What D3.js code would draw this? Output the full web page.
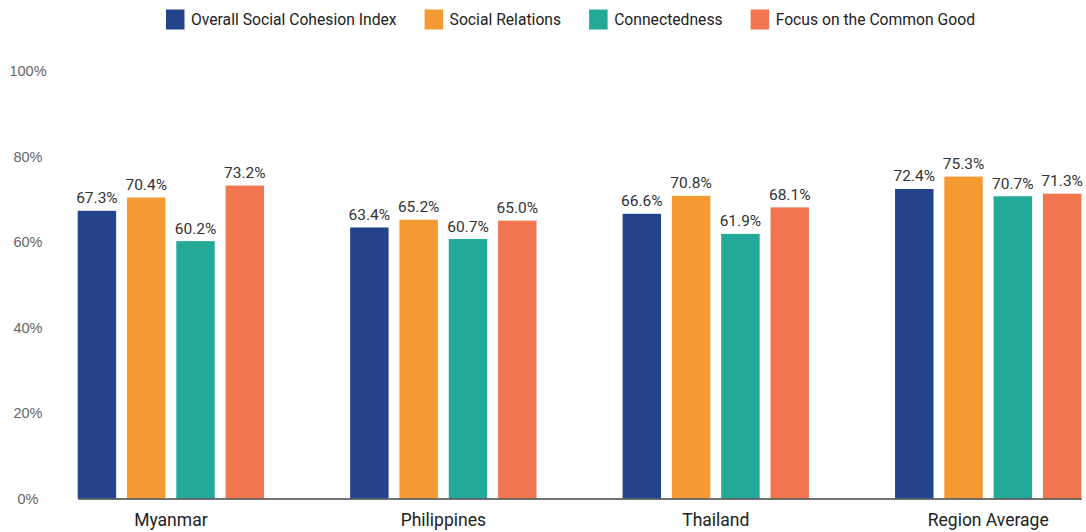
<!DOCTYPE html>
<html>
<head>
<meta charset="utf-8">
<script src="https://cdn.jsdelivr.net/npm/d3@7"></script>
<style>
  html, body { margin: 0; padding: 0; background: #fff; }
  svg { display: block; }
</style>
</head>
<body>
<svg id="chart" width="1086" height="532"></svg>
<script>
// Social cohesion scores by country, per dimension (percent)
const categories = ["Myanmar", "Philippines", "Thailand", "Region Average"];
const seriesNames = ["Overall Social Cohesion Index", "Social Relations", "Connectedness", "Focus on the Common Good"];
const overall     = [67.3, 63.4, 66.6, 72.4];
const relations   = [70.4, 65.2, 70.8, 75.3];
const connected   = [60.2, 60.7, 61.9, 70.7];
const commonGood  = [73.2, 65.0, 68.1, 71.3];
const yTicks = [0, 20, 40, 60, 80, 100];
const colors = ["#25438a", "#f39a32", "#23a998", "#f2764f"];

const seriesValues = [overall, relations, connected, commonGood];
const rows = categories.map((c, i) => ({
  category: c,
  values: seriesNames.map((s, j) => ({ series: s, idx: j, value: seriesValues[j][i] }))
}));

const svg = d3.select("#chart");
const margin = { left: 77.7, right: 4.6, top: 71, bottom: 33.5 };
const W = 1086, H = 532;

const x0 = d3.scaleBand()
  .domain(categories)
  .range([margin.left, W - margin.right])
  .paddingInner(0.316)
  .paddingOuter(0);

const x1 = d3.scaleBand()
  .domain(seriesNames)
  .range([0, x0.bandwidth()])
  .paddingInner(0.22)
  .paddingOuter(0);

const y = d3.scaleLinear()
  .domain([0, 100])
  .range([H - margin.bottom, margin.top]);

const color = d3.scaleOrdinal().domain(seriesNames).range(colors);

// y-axis tick labels (no axis line, no gridlines)
const yAxis = d3.axisLeft(y)
  .tickValues(yTicks)
  .tickFormat(d => d + "%")
  .tickSize(0)
  .tickPadding(0);
const yg = svg.append("g")
  .attr("transform", "translate(28,0)")
  .call(yAxis);
yg.select(".domain").remove();
yg.selectAll("text")
  .attr("text-anchor", "middle")
  .attr("x", 0)
  .attr("font-family", "'Liberation Sans', Arial, sans-serif")
  .attr("font-size", 14.5)
  .attr("fill", "#666");

// bars
const groups = svg.append("g").selectAll("g")
  .data(rows)
  .join("g")
  .attr("transform", d => `translate(${x0(d.category)},0)`);

groups.selectAll("rect")
  .data(d => d.values)
  .join("rect")
  .attr("x", d => x1(d.series))
  .attr("width", x1.bandwidth())
  .attr("y", d => y(d.value))
  .attr("height", d => y(0) - y(d.value))
  .attr("fill", d => color(d.series));

// value labels
groups.selectAll("text.val")
  .data(d => d.values)
  .join("text")
  .attr("class", "val")
  .attr("x", d => x1(d.series) + x1.bandwidth() / 2)
  .attr("y", d => y(d.value) - 7.5)
  .attr("text-anchor", "middle")
  .attr("font-family", "Roboto, 'Noto Sans', sans-serif")
  .attr("font-size", 15.5)
  .attr("fill", "#333")
  .text(d => d.value.toFixed(1) + "%");

// x axis baseline and category labels
const xAxis = d3.axisBottom(x0).tickSize(0).tickPadding(15);
const xg = svg.append("g")
  .attr("transform", `translate(0,${y(0)})`)
  .call(xAxis);
xg.select(".domain")
  .attr("stroke", "#444")
  .attr("stroke-width", 1.3);
xg.selectAll("text")
  .attr("font-family", "Roboto, 'Noto Sans', sans-serif")
  .attr("font-size", 17.5)
  .attr("fill", "#222");

// legend
const legend = svg.append("g").attr("transform", "translate(166,9.5)");
let lx = 0;
seriesNames.forEach((s, i) => {
  const item = legend.append("g").attr("transform", `translate(${lx},0)`);
  item.append("rect")
    .attr("width", 18.5).attr("height", 20)
    .attr("fill", colors[i]);
  const t = item.append("text")
    .attr("x", 25).attr("y", 15.5)
    .attr("font-family", "Roboto, 'Noto Sans', sans-serif")
    .attr("font-size", 15.7)
    .attr("fill", "#222")
    .text(s);
  lx += 25 + t.node().getComputedTextLength() + 28;
});
</script>
</body>
</html>
